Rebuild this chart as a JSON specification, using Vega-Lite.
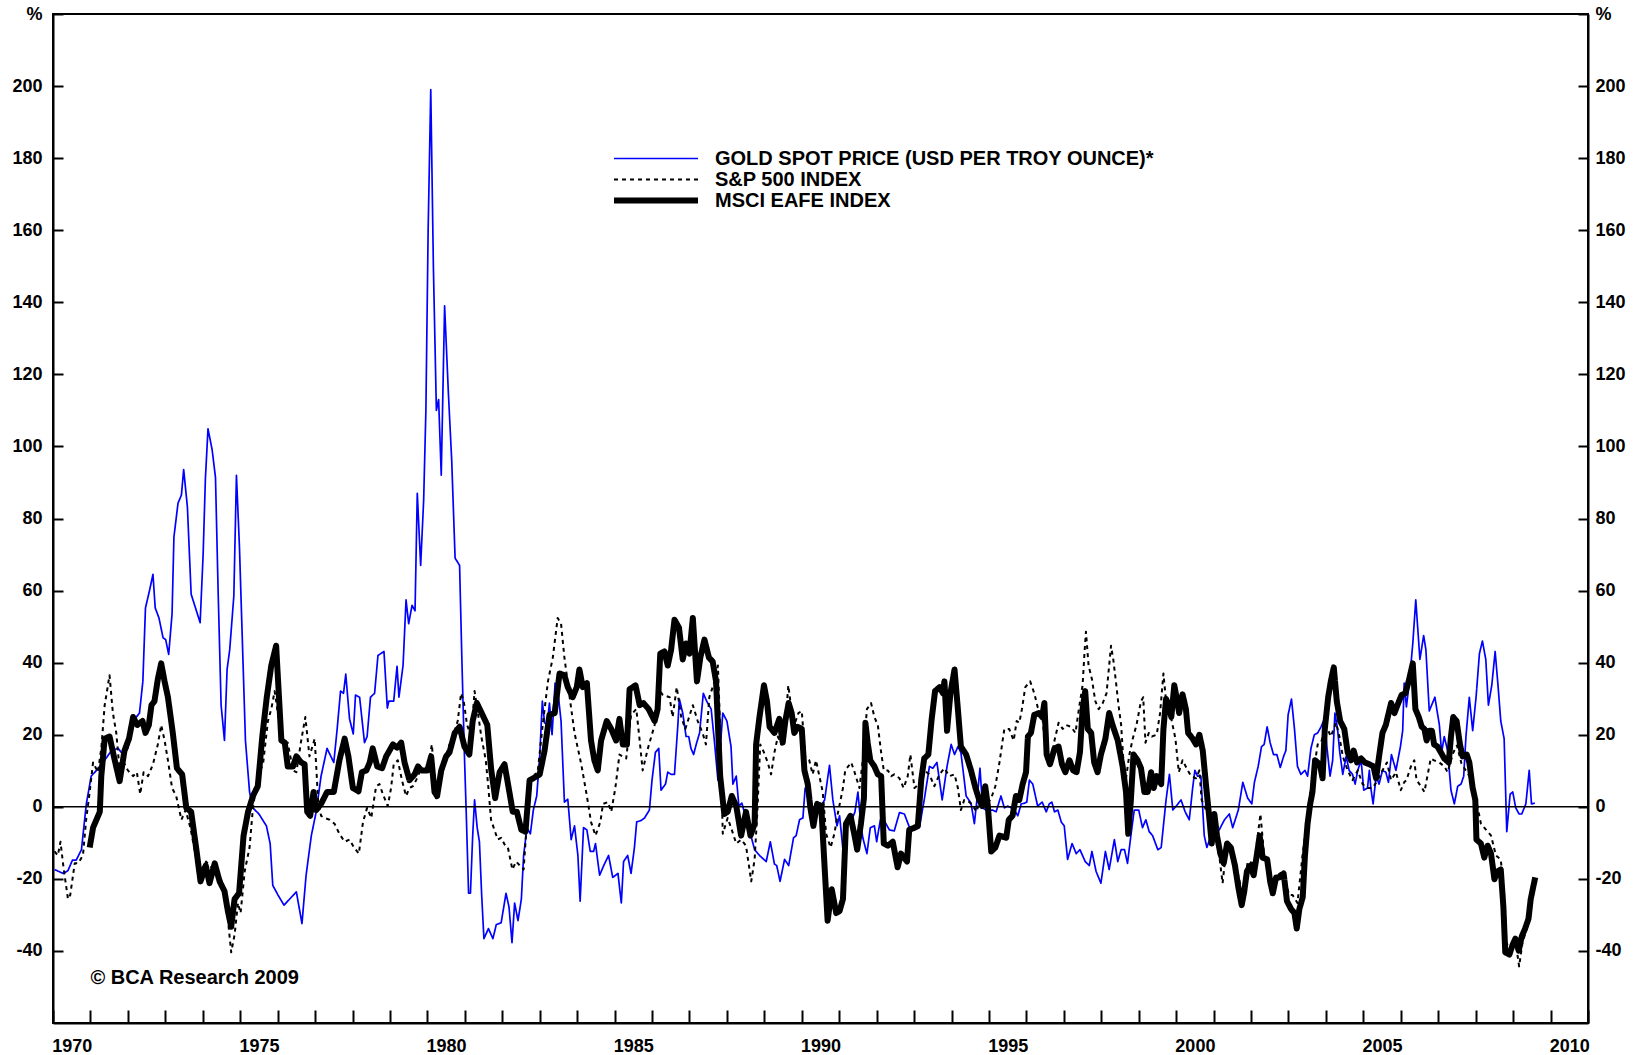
{
  "$schema": "https://vega.github.io/schema/vega-lite/v6.json",
  "width": 1535,
  "height": 1009,
  "autosize": {"type": "none"},
  "padding": {"left": 53, "top": 14, "right": 53, "bottom": 32},
  "background": "white",
  "config": {
    "view": {"stroke": "black", "strokeWidth": 2},
    "font": "Liberation Sans",
    "axis": {
      "labelFont": "Liberation Sans", "labelFontWeight": "bold", "labelFontSize": 18, "labelColor": "black",
      "domainColor": "black", "domainWidth": 2, "tickColor": "black", "tickWidth": 2, "grid": false, "title": null,
      "labelFlush": false, "labelOverlap": false, "labelBound": false
    },
    "legend": {
      "orient": "none", "legendX": 560, "legendY": 134, "title": null, "symbolType": "stroke",
      "symbolSize": 7056, "labelFont": "Liberation Sans", "labelFontWeight": "bold", "labelFontSize": 20,
      "labelColor": "black", "labelOffset": 16, "labelLimit": 0, "clipHeight": 21, "rowPadding": 0, "padding": 0
    }
  },
  "datasets": {
    "lines": [
{"s":"G","t":1970.04,"v":-17.4},{"s":"G","t":1970.27,"v":-18.5},{"s":"G","t":1970.40,"v":-17.7},{"s":"G","t":1970.52,"v":-14.8},{"s":"G","t":1970.62,"v":-14.8},{"s":"G","t":1970.76,"v":-11.9},{"s":"G","t":1970.89,"v":0.8},{"s":"G","t":1971.02,"v":8.5},{"s":"G","t":1971.16,"v":10.1},{"s":"G","t":1971.38,"v":12.9},{"s":"G","t":1971.56,"v":15.6},{"s":"G","t":1971.74,"v":16.2},{"s":"G","t":1971.87,"v":14.5},{"s":"G","t":1972.00,"v":16.2},{"s":"G","t":1972.14,"v":23.8},{"s":"G","t":1972.31,"v":26},{"s":"G","t":1972.40,"v":34.8},{"s":"G","t":1972.47,"v":55.2},{"s":"G","t":1972.58,"v":60.1},{"s":"G","t":1972.67,"v":64.5},{"s":"G","t":1972.73,"v":55.2},{"s":"G","t":1972.83,"v":52.4},{"s":"G","t":1972.94,"v":46.9},{"s":"G","t":1973.01,"v":46.4},{"s":"G","t":1973.09,"v":42.3},{"s":"G","t":1973.18,"v":53.5},{"s":"G","t":1973.23,"v":74.9},{"s":"G","t":1973.34,"v":84.3},{"s":"G","t":1973.43,"v":86.5},{"s":"G","t":1973.49,"v":93.6},{"s":"G","t":1973.59,"v":83.2},{"s":"G","t":1973.69,"v":59},{"s":"G","t":1973.93,"v":51.1},{"s":"G","t":1974.01,"v":70},{"s":"G","t":1974.07,"v":90.9},{"s":"G","t":1974.14,"v":104.9},{"s":"G","t":1974.25,"v":99.1},{"s":"G","t":1974.34,"v":91.4},{"s":"G","t":1974.41,"v":60.1},{"s":"G","t":1974.49,"v":28.2},{"s":"G","t":1974.58,"v":18.4},{"s":"G","t":1974.65,"v":38.1},{"s":"G","t":1974.72,"v":43.6},{"s":"G","t":1974.83,"v":58.5},{"s":"G","t":1974.90,"v":92},{"s":"G","t":1974.98,"v":72.2},{"s":"G","t":1975.14,"v":18.4},{"s":"G","t":1975.25,"v":4.1},{"s":"G","t":1975.34,"v":-0.3},{"s":"G","t":1975.50,"v":-2},{"s":"G","t":1975.70,"v":-5.3},{"s":"G","t":1975.80,"v":-10.2},{"s":"G","t":1975.87,"v":-21.8},{"s":"G","t":1976.01,"v":-24.5},{"s":"G","t":1976.17,"v":-27.3},{"s":"G","t":1976.50,"v":-23.6},{"s":"G","t":1976.65,"v":-32.4},{"s":"G","t":1976.76,"v":-19},{"s":"G","t":1976.90,"v":-8},{"s":"G","t":1977.03,"v":-1.4},{"s":"G","t":1977.16,"v":8.5},{"s":"G","t":1977.32,"v":16.2},{"s":"G","t":1977.50,"v":12.3},{"s":"G","t":1977.59,"v":21.6},{"s":"G","t":1977.68,"v":32.1},{"s":"G","t":1977.76,"v":31.5},{"s":"G","t":1977.82,"v":36.8},{"s":"G","t":1977.92,"v":24.4},{"s":"G","t":1978.02,"v":20.2},{"s":"G","t":1978.08,"v":31},{"s":"G","t":1978.19,"v":30.4},{"s":"G","t":1978.32,"v":17.8},{"s":"G","t":1978.39,"v":19.5},{"s":"G","t":1978.48,"v":30.4},{"s":"G","t":1978.59,"v":31.5},{"s":"G","t":1978.68,"v":42},{"s":"G","t":1978.84,"v":43.1},{"s":"G","t":1978.93,"v":27.4},{"s":"G","t":1978.97,"v":29.3},{"s":"G","t":1979.10,"v":29.3},{"s":"G","t":1979.19,"v":39},{"s":"G","t":1979.24,"v":30.4},{"s":"G","t":1979.35,"v":39.2},{"s":"G","t":1979.43,"v":57.4},{"s":"G","t":1979.50,"v":50.8},{"s":"G","t":1979.59,"v":55.9},{"s":"G","t":1979.67,"v":54.4},{"s":"G","t":1979.73,"v":87},{"s":"G","t":1979.82,"v":67},{"s":"G","t":1979.90,"v":85},{"s":"G","t":1979.96,"v":110},{"s":"G","t":1980.02,"v":160},{"s":"G","t":1980.09,"v":199},{"s":"G","t":1980.16,"v":150},{"s":"G","t":1980.24,"v":110},{"s":"G","t":1980.30,"v":113},{"s":"G","t":1980.37,"v":92},{"s":"G","t":1980.46,"v":139},{"s":"G","t":1980.56,"v":115},{"s":"G","t":1980.65,"v":96},{"s":"G","t":1980.74,"v":69},{"s":"G","t":1980.86,"v":67},{"s":"G","t":1980.92,"v":41.4},{"s":"G","t":1980.99,"v":14},{"s":"G","t":1981.04,"v":-2.5},{"s":"G","t":1981.10,"v":-24},{"s":"G","t":1981.15,"v":-24},{"s":"G","t":1981.21,"v":-8},{"s":"G","t":1981.26,"v":1.9},{"s":"G","t":1981.33,"v":-5.8},{"s":"G","t":1981.39,"v":-9.7},{"s":"G","t":1981.45,"v":-24.5},{"s":"G","t":1981.51,"v":-36.6},{"s":"G","t":1981.63,"v":-33.8},{"s":"G","t":1981.75,"v":-36.6},{"s":"G","t":1981.84,"v":-32.7},{"s":"G","t":1981.97,"v":-32.2},{"s":"G","t":1982.10,"v":-24},{"s":"G","t":1982.18,"v":-27.8},{"s":"G","t":1982.26,"v":-37.7},{"s":"G","t":1982.33,"v":-26.7},{"s":"G","t":1982.42,"v":-31.6},{"s":"G","t":1982.51,"v":-25.6},{"s":"G","t":1982.57,"v":-13.5},{"s":"G","t":1982.66,"v":-5.8},{"s":"G","t":1982.75,"v":-7.5},{"s":"G","t":1982.83,"v":-0.9},{"s":"G","t":1982.92,"v":3},{"s":"G","t":1983.00,"v":14},{"s":"G","t":1983.07,"v":29.3},{"s":"G","t":1983.13,"v":23.3},{"s":"G","t":1983.20,"v":22.7},{"s":"G","t":1983.26,"v":28.8},{"s":"G","t":1983.33,"v":20},{"s":"G","t":1983.41,"v":34.3},{"s":"G","t":1983.48,"v":32.6},{"s":"G","t":1983.57,"v":23.8},{"s":"G","t":1983.66,"v":1.3},{"s":"G","t":1983.75,"v":2.1},{"s":"G","t":1983.84,"v":-9.1},{"s":"G","t":1983.93,"v":-5.3},{"s":"G","t":1984.02,"v":-13.5},{"s":"G","t":1984.08,"v":-26.2},{"s":"G","t":1984.17,"v":-5.8},{"s":"G","t":1984.26,"v":-6.4},{"s":"G","t":1984.35,"v":-12.4},{"s":"G","t":1984.44,"v":-12.4},{"s":"G","t":1984.49,"v":-10.2},{"s":"G","t":1984.60,"v":-19},{"s":"G","t":1984.71,"v":-16.3},{"s":"G","t":1984.84,"v":-13.5},{"s":"G","t":1984.95,"v":-19.6},{"s":"G","t":1985.09,"v":-18.5},{"s":"G","t":1985.18,"v":-26.7},{"s":"G","t":1985.24,"v":-15.2},{"s":"G","t":1985.35,"v":-13.5},{"s":"G","t":1985.44,"v":-18.5},{"s":"G","t":1985.53,"v":-11.3},{"s":"G","t":1985.59,"v":-4.2},{"s":"G","t":1985.71,"v":-3.8},{"s":"G","t":1985.80,"v":-3.1},{"s":"G","t":1985.93,"v":-0.9},{"s":"G","t":1986.00,"v":7.4},{"s":"G","t":1986.09,"v":15.1},{"s":"G","t":1986.18,"v":16.2},{"s":"G","t":1986.24,"v":4.6},{"s":"G","t":1986.36,"v":6.3},{"s":"G","t":1986.42,"v":9.6},{"s":"G","t":1986.51,"v":9},{"s":"G","t":1986.60,"v":9},{"s":"G","t":1986.69,"v":22.7},{"s":"G","t":1986.73,"v":29.9},{"s":"G","t":1986.82,"v":26},{"s":"G","t":1986.91,"v":19.5},{"s":"G","t":1986.98,"v":19.5},{"s":"G","t":1987.04,"v":16.2},{"s":"G","t":1987.11,"v":14.5},{"s":"G","t":1987.18,"v":17.3},{"s":"G","t":1987.27,"v":20.5},{"s":"G","t":1987.37,"v":31.5},{"s":"G","t":1987.46,"v":29.3},{"s":"G","t":1987.58,"v":27.1},{"s":"G","t":1987.67,"v":17.8},{"s":"G","t":1987.76,"v":7.4},{"s":"G","t":1987.89,"v":26},{"s":"G","t":1988.00,"v":23.8},{"s":"G","t":1988.11,"v":16.7},{"s":"G","t":1988.16,"v":6.3},{"s":"G","t":1988.25,"v":8.5},{"s":"G","t":1988.32,"v":0.2},{"s":"G","t":1988.40,"v":1},{"s":"G","t":1988.51,"v":-3.1},{"s":"G","t":1988.60,"v":-6.4},{"s":"G","t":1988.74,"v":-11.9},{"s":"G","t":1988.87,"v":-13.5},{"s":"G","t":1989.05,"v":-15.2},{"s":"G","t":1989.16,"v":-9.7},{"s":"G","t":1989.27,"v":-15.9},{"s":"G","t":1989.33,"v":-16.3},{"s":"G","t":1989.42,"v":-20.7},{"s":"G","t":1989.54,"v":-14.6},{"s":"G","t":1989.65,"v":-16.3},{"s":"G","t":1989.78,"v":-8.6},{"s":"G","t":1989.85,"v":-8},{"s":"G","t":1989.94,"v":-3.6},{"s":"G","t":1990.03,"v":-3.1},{"s":"G","t":1990.09,"v":5.2},{"s":"G","t":1990.16,"v":3.5},{"s":"G","t":1990.25,"v":-1.4},{"s":"G","t":1990.36,"v":-3.1},{"s":"G","t":1990.47,"v":-0.3},{"s":"G","t":1990.61,"v":1.9},{"s":"G","t":1990.74,"v":11.5},{"s":"G","t":1990.83,"v":1.9},{"s":"G","t":1990.94,"v":-5.3},{"s":"G","t":1991.01,"v":-2.5},{"s":"G","t":1991.10,"v":-11.9},{"s":"G","t":1991.21,"v":-5.3},{"s":"G","t":1991.34,"v":-3.6},{"s":"G","t":1991.42,"v":-1.4},{"s":"G","t":1991.50,"v":4.1},{"s":"G","t":1991.57,"v":-4.2},{"s":"G","t":1991.63,"v":-8.6},{"s":"G","t":1991.74,"v":-13},{"s":"G","t":1991.83,"v":-5.8},{"s":"G","t":1991.94,"v":-5.3},{"s":"G","t":1992.00,"v":-9.7},{"s":"G","t":1992.10,"v":-3.6},{"s":"G","t":1992.22,"v":-4.2},{"s":"G","t":1992.34,"v":-6.4},{"s":"G","t":1992.47,"v":-6.7},{"s":"G","t":1992.61,"v":-1.6},{"s":"G","t":1992.74,"v":-2},{"s":"G","t":1992.88,"v":-5.8},{"s":"G","t":1993.01,"v":-6.4},{"s":"G","t":1993.14,"v":-5.8},{"s":"G","t":1993.27,"v":1.9},{"s":"G","t":1993.41,"v":11.2},{"s":"G","t":1993.50,"v":10.7},{"s":"G","t":1993.61,"v":12.3},{"s":"G","t":1993.75,"v":1.9},{"s":"G","t":1993.88,"v":11.2},{"s":"G","t":1993.99,"v":17.3},{"s":"G","t":1994.08,"v":14.5},{"s":"G","t":1994.17,"v":16.7},{"s":"G","t":1994.25,"v":15.1},{"s":"G","t":1994.39,"v":3},{"s":"G","t":1994.52,"v":1},{"s":"G","t":1994.61,"v":-4.7},{"s":"G","t":1994.70,"v":4.1},{"s":"G","t":1994.76,"v":10.7},{"s":"G","t":1994.83,"v":-0.3},{"s":"G","t":1994.92,"v":-0.9},{"s":"G","t":1995.10,"v":-0.9},{"s":"G","t":1995.19,"v":-1.4},{"s":"G","t":1995.32,"v":3},{"s":"G","t":1995.41,"v":-0.3},{"s":"G","t":1995.50,"v":0.2},{"s":"G","t":1995.59,"v":-0.3},{"s":"G","t":1995.68,"v":-0.9},{"s":"G","t":1995.77,"v":-2.5},{"s":"G","t":1995.86,"v":0.8},{"s":"G","t":1995.95,"v":1},{"s":"G","t":1996.01,"v":1.3},{"s":"G","t":1996.08,"v":7.4},{"s":"G","t":1996.17,"v":6.3},{"s":"G","t":1996.30,"v":0.2},{"s":"G","t":1996.42,"v":1.3},{"s":"G","t":1996.53,"v":-1.4},{"s":"G","t":1996.61,"v":0.8},{"s":"G","t":1996.68,"v":1.3},{"s":"G","t":1996.75,"v":-1.4},{"s":"G","t":1996.84,"v":-0.9},{"s":"G","t":1996.93,"v":-4.2},{"s":"G","t":1997.01,"v":-5.3},{"s":"G","t":1997.10,"v":-14.6},{"s":"G","t":1997.22,"v":-10.2},{"s":"G","t":1997.33,"v":-13},{"s":"G","t":1997.43,"v":-11.9},{"s":"G","t":1997.57,"v":-15.2},{"s":"G","t":1997.68,"v":-16.3},{"s":"G","t":1997.75,"v":-12.4},{"s":"G","t":1997.86,"v":-17.9},{"s":"G","t":1997.99,"v":-21.2},{"s":"G","t":1998.11,"v":-12.4},{"s":"G","t":1998.21,"v":-17.4},{"s":"G","t":1998.35,"v":-9.1},{"s":"G","t":1998.44,"v":-15.2},{"s":"G","t":1998.53,"v":-11.9},{"s":"G","t":1998.62,"v":-11.9},{"s":"G","t":1998.70,"v":-15.7},{"s":"G","t":1998.79,"v":-8},{"s":"G","t":1998.88,"v":-0.9},{"s":"G","t":1999.00,"v":-0.9},{"s":"G","t":1999.10,"v":-5.8},{"s":"G","t":1999.19,"v":-3.6},{"s":"G","t":1999.28,"v":-6.9},{"s":"G","t":1999.37,"v":-8},{"s":"G","t":1999.51,"v":-11.9},{"s":"G","t":1999.60,"v":-11.3},{"s":"G","t":1999.73,"v":1.9},{"s":"G","t":1999.82,"v":9},{"s":"G","t":1999.91,"v":-0.9},{"s":"G","t":2000.00,"v":0.2},{"s":"G","t":2000.13,"v":1.9},{"s":"G","t":2000.24,"v":-1.4},{"s":"G","t":2000.35,"v":-3.6},{"s":"G","t":2000.44,"v":5.2},{"s":"G","t":2000.50,"v":10.1},{"s":"G","t":2000.57,"v":8.5},{"s":"G","t":2000.66,"v":8.5},{"s":"G","t":2000.75,"v":-8},{"s":"G","t":2000.82,"v":-11.3},{"s":"G","t":2000.91,"v":-8.6},{"s":"G","t":2001.02,"v":-7.5},{"s":"G","t":2001.15,"v":-6.4},{"s":"G","t":2001.29,"v":-3.6},{"s":"G","t":2001.42,"v":-2},{"s":"G","t":2001.51,"v":-5.8},{"s":"G","t":2001.66,"v":-0.9},{"s":"G","t":2001.78,"v":6.8},{"s":"G","t":2001.91,"v":2.4},{"s":"G","t":2002.02,"v":0.8},{"s":"G","t":2002.09,"v":6.8},{"s":"G","t":2002.19,"v":11.2},{"s":"G","t":2002.28,"v":16.7},{"s":"G","t":2002.35,"v":17.3},{"s":"G","t":2002.43,"v":22.2},{"s":"G","t":2002.51,"v":17.8},{"s":"G","t":2002.60,"v":14.5},{"s":"G","t":2002.69,"v":14.5},{"s":"G","t":2002.78,"v":10.9},{"s":"G","t":2002.87,"v":14},{"s":"G","t":2002.93,"v":15.6},{"s":"G","t":2002.99,"v":25.5},{"s":"G","t":2003.08,"v":29.9},{"s":"G","t":2003.16,"v":21.6},{"s":"G","t":2003.24,"v":11.2},{"s":"G","t":2003.33,"v":9},{"s":"G","t":2003.44,"v":10.1},{"s":"G","t":2003.51,"v":8.5},{"s":"G","t":2003.60,"v":16.2},{"s":"G","t":2003.69,"v":20},{"s":"G","t":2003.78,"v":20.5},{"s":"G","t":2003.87,"v":22.2},{"s":"G","t":2003.96,"v":24.4},{"s":"G","t":2004.03,"v":16.2},{"s":"G","t":2004.11,"v":8.5},{"s":"G","t":2004.18,"v":12.9},{"s":"G","t":2004.24,"v":26},{"s":"G","t":2004.31,"v":21.6},{"s":"G","t":2004.37,"v":15.1},{"s":"G","t":2004.45,"v":9},{"s":"G","t":2004.54,"v":14},{"s":"G","t":2004.62,"v":10.1},{"s":"G","t":2004.71,"v":9},{"s":"G","t":2004.78,"v":6.3},{"s":"G","t":2004.85,"v":10.1},{"s":"G","t":2004.94,"v":12.9},{"s":"G","t":2005.01,"v":4.6},{"s":"G","t":2005.11,"v":5.2},{"s":"G","t":2005.16,"v":10.1},{"s":"G","t":2005.20,"v":5.2},{"s":"G","t":2005.26,"v":0.8},{"s":"G","t":2005.34,"v":8.5},{"s":"G","t":2005.42,"v":6.3},{"s":"G","t":2005.51,"v":10.1},{"s":"G","t":2005.60,"v":9.6},{"s":"G","t":2005.67,"v":6.8},{"s":"G","t":2005.75,"v":14.5},{"s":"G","t":2005.87,"v":10.1},{"s":"G","t":2005.99,"v":16.7},{"s":"G","t":2006.05,"v":21.1},{"s":"G","t":2006.09,"v":34.3},{"s":"G","t":2006.15,"v":27.7},{"s":"G","t":2006.23,"v":34.8},{"s":"G","t":2006.32,"v":45.3},{"s":"G","t":2006.40,"v":57.4},{"s":"G","t":2006.51,"v":40.9},{"s":"G","t":2006.61,"v":47.5},{"s":"G","t":2006.67,"v":43.6},{"s":"G","t":2006.76,"v":26.6},{"s":"G","t":2006.91,"v":30.4},{"s":"G","t":2007.03,"v":22.7},{"s":"G","t":2007.09,"v":15.1},{"s":"G","t":2007.16,"v":19.5},{"s":"G","t":2007.25,"v":15.6},{"s":"G","t":2007.34,"v":4.6},{"s":"G","t":2007.43,"v":0.8},{"s":"G","t":2007.52,"v":5.7},{"s":"G","t":2007.61,"v":6.3},{"s":"G","t":2007.68,"v":8.5},{"s":"G","t":2007.74,"v":19.5},{"s":"G","t":2007.83,"v":30.4},{"s":"G","t":2007.92,"v":21.1},{"s":"G","t":2008.01,"v":30.4},{"s":"G","t":2008.10,"v":42.5},{"s":"G","t":2008.18,"v":46},{"s":"G","t":2008.27,"v":40.9},{"s":"G","t":2008.34,"v":28.2},{"s":"G","t":2008.43,"v":33.7},{"s":"G","t":2008.52,"v":43.1},{"s":"G","t":2008.60,"v":33.2},{"s":"G","t":2008.67,"v":23.8},{"s":"G","t":2008.76,"v":18.9},{"s":"G","t":2008.83,"v":-6.9},{"s":"G","t":2008.92,"v":3.5},{"s":"G","t":2008.99,"v":4.1},{"s":"G","t":2009.07,"v":-0.3},{"s":"G","t":2009.16,"v":-2},{"s":"G","t":2009.23,"v":-2},{"s":"G","t":2009.34,"v":0.8},{"s":"G","t":2009.43,"v":10.1},{"s":"G","t":2009.49,"v":0.8},{"s":"G","t":2009.58,"v":1},
{"s":"S","t":1970.04,"v":-12.4},{"s":"S","t":1970.13,"v":-13.5},{"s":"S","t":1970.20,"v":-9.7},{"s":"S","t":1970.28,"v":-16.8},{"s":"S","t":1970.40,"v":-25.6},{"s":"S","t":1970.46,"v":-24.5},{"s":"S","t":1970.58,"v":-15.7},{"s":"S","t":1970.67,"v":-15.7},{"s":"S","t":1970.80,"v":-13.5},{"s":"S","t":1970.89,"v":-3.1},{"s":"S","t":1970.98,"v":4.1},{"s":"S","t":1971.07,"v":12.3},{"s":"S","t":1971.20,"v":9.6},{"s":"S","t":1971.29,"v":16.2},{"s":"S","t":1971.38,"v":28.2},{"s":"S","t":1971.45,"v":32.6},{"s":"S","t":1971.51,"v":36.5},{"s":"S","t":1971.60,"v":26},{"s":"S","t":1971.69,"v":20.5},{"s":"S","t":1971.78,"v":10.1},{"s":"S","t":1971.89,"v":12.3},{"s":"S","t":1972.00,"v":10.1},{"s":"S","t":1972.14,"v":8.5},{"s":"S","t":1972.24,"v":9.6},{"s":"S","t":1972.33,"v":3.5},{"s":"S","t":1972.42,"v":9.6},{"s":"S","t":1972.54,"v":8.5},{"s":"S","t":1972.67,"v":11.8},{"s":"S","t":1972.80,"v":17.3},{"s":"S","t":1972.89,"v":22.7},{"s":"S","t":1972.98,"v":18.4},{"s":"S","t":1973.07,"v":12.9},{"s":"S","t":1973.18,"v":5.2},{"s":"S","t":1973.29,"v":3},{"s":"S","t":1973.43,"v":-3.6},{"s":"S","t":1973.54,"v":-0.9},{"s":"S","t":1973.67,"v":-5.8},{"s":"S","t":1973.83,"v":-14.6},{"s":"S","t":1973.96,"v":-17.4},{"s":"S","t":1974.09,"v":-15.2},{"s":"S","t":1974.23,"v":-16.8},{"s":"S","t":1974.36,"v":-17.9},{"s":"S","t":1974.49,"v":-20.1},{"s":"S","t":1974.58,"v":-24},{"s":"S","t":1974.67,"v":-31.1},{"s":"S","t":1974.76,"v":-40.4},{"s":"S","t":1974.85,"v":-35.5},{"s":"S","t":1974.94,"v":-26.7},{"s":"S","t":1975.01,"v":-29.5},{"s":"S","t":1975.12,"v":-17.9},{"s":"S","t":1975.25,"v":-11.3},{"s":"S","t":1975.34,"v":-0.3},{"s":"S","t":1975.47,"v":8.5},{"s":"S","t":1975.61,"v":11.8},{"s":"S","t":1975.74,"v":23.8},{"s":"S","t":1975.83,"v":27.1},{"s":"S","t":1975.92,"v":32.1},{"s":"S","t":1976.05,"v":22.7},{"s":"S","t":1976.17,"v":17.3},{"s":"S","t":1976.27,"v":17.8},{"s":"S","t":1976.41,"v":10.1},{"s":"S","t":1976.50,"v":9.6},{"s":"S","t":1976.63,"v":18.4},{"s":"S","t":1976.74,"v":24.9},{"s":"S","t":1976.85,"v":14},{"s":"S","t":1976.99,"v":18.9},{"s":"S","t":1977.08,"v":1.9},{"s":"S","t":1977.16,"v":-2.5},{"s":"S","t":1977.25,"v":-3.1},{"s":"S","t":1977.39,"v":-3.6},{"s":"S","t":1977.52,"v":-4.7},{"s":"S","t":1977.65,"v":-7.5},{"s":"S","t":1977.79,"v":-9.7},{"s":"S","t":1977.92,"v":-9.1},{"s":"S","t":1978.04,"v":-11.3},{"s":"S","t":1978.17,"v":-13},{"s":"S","t":1978.28,"v":-4.2},{"s":"S","t":1978.39,"v":-0.3},{"s":"S","t":1978.50,"v":-3.1},{"s":"S","t":1978.63,"v":5.7},{"s":"S","t":1978.72,"v":6.3},{"s":"S","t":1978.81,"v":3.5},{"s":"S","t":1978.94,"v":0.2},{"s":"S","t":1979.03,"v":5.2},{"s":"S","t":1979.10,"v":11.8},{"s":"S","t":1979.21,"v":12.9},{"s":"S","t":1979.32,"v":7.4},{"s":"S","t":1979.43,"v":3},{"s":"S","t":1979.52,"v":5.2},{"s":"S","t":1979.61,"v":5.7},{"s":"S","t":1979.70,"v":7.4},{"s":"S","t":1979.79,"v":9.6},{"s":"S","t":1979.91,"v":9.6},{"s":"S","t":1980.01,"v":10.7},{"s":"S","t":1980.12,"v":17.3},{"s":"S","t":1980.23,"v":2.4},{"s":"S","t":1980.32,"v":5.2},{"s":"S","t":1980.43,"v":10.7},{"s":"S","t":1980.55,"v":16.2},{"s":"S","t":1980.68,"v":19.5},{"s":"S","t":1980.81,"v":23.8},{"s":"S","t":1980.90,"v":31.5},{"s":"S","t":1980.97,"v":29.3},{"s":"S","t":1981.06,"v":22.7},{"s":"S","t":1981.17,"v":19.5},{"s":"S","t":1981.26,"v":32.1},{"s":"S","t":1981.35,"v":26},{"s":"S","t":1981.44,"v":19.5},{"s":"S","t":1981.56,"v":12.9},{"s":"S","t":1981.63,"v":5.2},{"s":"S","t":1981.70,"v":-3.6},{"s":"S","t":1981.79,"v":-6.4},{"s":"S","t":1981.88,"v":-9.1},{"s":"S","t":1981.97,"v":-8.6},{"s":"S","t":1982.08,"v":-10.8},{"s":"S","t":1982.15,"v":-11.3},{"s":"S","t":1982.27,"v":-17.4},{"s":"S","t":1982.37,"v":-15.2},{"s":"S","t":1982.57,"v":-17.4},{"s":"S","t":1982.64,"v":-6.9},{"s":"S","t":1982.77,"v":7.4},{"s":"S","t":1982.95,"v":10.1},{"s":"S","t":1983.08,"v":22.7},{"s":"S","t":1983.22,"v":34.8},{"s":"S","t":1983.35,"v":41.4},{"s":"S","t":1983.48,"v":52.4},{"s":"S","t":1983.57,"v":50.8},{"s":"S","t":1983.66,"v":41.4},{"s":"S","t":1983.80,"v":30.4},{"s":"S","t":1983.93,"v":20.5},{"s":"S","t":1984.11,"v":11.8},{"s":"S","t":1984.26,"v":3},{"s":"S","t":1984.37,"v":-4.2},{"s":"S","t":1984.49,"v":-8},{"s":"S","t":1984.62,"v":-4.2},{"s":"S","t":1984.69,"v":0.8},{"s":"S","t":1984.82,"v":1.3},{"s":"S","t":1984.91,"v":-1.4},{"s":"S","t":1985.02,"v":5.2},{"s":"S","t":1985.13,"v":14.5},{"s":"S","t":1985.31,"v":13.4},{"s":"S","t":1985.44,"v":25.5},{"s":"S","t":1985.58,"v":27.1},{"s":"S","t":1985.67,"v":18.4},{"s":"S","t":1985.75,"v":10.1},{"s":"S","t":1985.89,"v":16.2},{"s":"S","t":1986.07,"v":22.7},{"s":"S","t":1986.18,"v":32.6},{"s":"S","t":1986.29,"v":31},{"s":"S","t":1986.47,"v":30.4},{"s":"S","t":1986.55,"v":24.9},{"s":"S","t":1986.66,"v":33.2},{"s":"S","t":1986.78,"v":24.9},{"s":"S","t":1986.89,"v":21.6},{"s":"S","t":1987.09,"v":28.2},{"s":"S","t":1987.22,"v":23.8},{"s":"S","t":1987.35,"v":20.5},{"s":"S","t":1987.44,"v":17.3},{"s":"S","t":1987.53,"v":30.4},{"s":"S","t":1987.67,"v":34.8},{"s":"S","t":1987.76,"v":39.2},{"s":"S","t":1987.82,"v":21.6},{"s":"S","t":1987.89,"v":-7.5},{"s":"S","t":1988.02,"v":-3.1},{"s":"S","t":1988.13,"v":-6.4},{"s":"S","t":1988.25,"v":-10.2},{"s":"S","t":1988.38,"v":-9.1},{"s":"S","t":1988.51,"v":-10.8},{"s":"S","t":1988.65,"v":-20.7},{"s":"S","t":1988.74,"v":-14.6},{"s":"S","t":1988.81,"v":-2},{"s":"S","t":1988.89,"v":17.3},{"s":"S","t":1988.99,"v":15.1},{"s":"S","t":1989.09,"v":12.3},{"s":"S","t":1989.18,"v":9},{"s":"S","t":1989.27,"v":15.1},{"s":"S","t":1989.36,"v":19.5},{"s":"S","t":1989.45,"v":17.3},{"s":"S","t":1989.56,"v":22.7},{"s":"S","t":1989.64,"v":33.7},{"s":"S","t":1989.72,"v":27.1},{"s":"S","t":1989.80,"v":22.7},{"s":"S","t":1989.91,"v":26},{"s":"S","t":1990.00,"v":26.6},{"s":"S","t":1990.09,"v":14},{"s":"S","t":1990.20,"v":12.9},{"s":"S","t":1990.29,"v":9},{"s":"S","t":1990.38,"v":12.9},{"s":"S","t":1990.47,"v":8.5},{"s":"S","t":1990.56,"v":4.1},{"s":"S","t":1990.65,"v":-7.5},{"s":"S","t":1990.77,"v":-11.3},{"s":"S","t":1990.87,"v":-7.5},{"s":"S","t":1990.96,"v":-2},{"s":"S","t":1991.10,"v":5.2},{"s":"S","t":1991.16,"v":10.1},{"s":"S","t":1991.32,"v":12.3},{"s":"S","t":1991.41,"v":9.6},{"s":"S","t":1991.54,"v":5.2},{"s":"S","t":1991.63,"v":12.9},{"s":"S","t":1991.74,"v":27.1},{"s":"S","t":1991.85,"v":28.8},{"s":"S","t":1991.94,"v":24.9},{"s":"S","t":1992.03,"v":22.7},{"s":"S","t":1992.12,"v":15.1},{"s":"S","t":1992.19,"v":10.1},{"s":"S","t":1992.30,"v":10.1},{"s":"S","t":1992.39,"v":8.5},{"s":"S","t":1992.47,"v":9},{"s":"S","t":1992.61,"v":7.9},{"s":"S","t":1992.72,"v":5.2},{"s":"S","t":1992.83,"v":8.5},{"s":"S","t":1992.90,"v":14.5},{"s":"S","t":1993.01,"v":5.2},{"s":"S","t":1993.14,"v":6.3},{"s":"S","t":1993.27,"v":10.1},{"s":"S","t":1993.41,"v":9},{"s":"S","t":1993.54,"v":5.7},{"s":"S","t":1993.68,"v":9},{"s":"S","t":1993.81,"v":10.7},{"s":"S","t":1993.94,"v":8.5},{"s":"S","t":1994.08,"v":9},{"s":"S","t":1994.17,"v":5.2},{"s":"S","t":1994.25,"v":-0.9},{"s":"S","t":1994.34,"v":1.9},{"s":"S","t":1994.48,"v":1.3},{"s":"S","t":1994.57,"v":0.2},{"s":"S","t":1994.67,"v":-1.4},{"s":"S","t":1994.79,"v":3.5},{"s":"S","t":1994.92,"v":0.2},{"s":"S","t":1995.06,"v":2.4},{"s":"S","t":1995.17,"v":5.7},{"s":"S","t":1995.28,"v":12.3},{"s":"S","t":1995.41,"v":21.6},{"s":"S","t":1995.54,"v":21.6},{"s":"S","t":1995.66,"v":18.4},{"s":"S","t":1995.74,"v":23.8},{"s":"S","t":1995.81,"v":23.3},{"s":"S","t":1995.88,"v":27.1},{"s":"S","t":1995.97,"v":33.2},{"s":"S","t":1996.10,"v":34.8},{"s":"S","t":1996.21,"v":31.5},{"s":"S","t":1996.30,"v":27.7},{"s":"S","t":1996.42,"v":25.5},{"s":"S","t":1996.54,"v":13.4},{"s":"S","t":1996.66,"v":12.9},{"s":"S","t":1996.75,"v":18.4},{"s":"S","t":1996.86,"v":23.3},{"s":"S","t":1996.97,"v":21.6},{"s":"S","t":1997.06,"v":22.7},{"s":"S","t":1997.19,"v":22.2},{"s":"S","t":1997.31,"v":20.5},{"s":"S","t":1997.41,"v":27.7},{"s":"S","t":1997.50,"v":33.7},{"s":"S","t":1997.55,"v":42.5},{"s":"S","t":1997.59,"v":48.6},{"s":"S","t":1997.66,"v":39.2},{"s":"S","t":1997.75,"v":35.4},{"s":"S","t":1997.84,"v":29.3},{"s":"S","t":1997.93,"v":27.1},{"s":"S","t":1998.04,"v":28.8},{"s":"S","t":1998.14,"v":31.5},{"s":"S","t":1998.20,"v":38.1},{"s":"S","t":1998.26,"v":44.7},{"s":"S","t":1998.32,"v":40.9},{"s":"S","t":1998.39,"v":34.8},{"s":"S","t":1998.46,"v":28.2},{"s":"S","t":1998.53,"v":22.7},{"s":"S","t":1998.59,"v":12.9},{"s":"S","t":1998.66,"v":7.9},{"s":"S","t":1998.75,"v":14.5},{"s":"S","t":1998.84,"v":18.9},{"s":"S","t":1998.94,"v":22.7},{"s":"S","t":1999.06,"v":29.3},{"s":"S","t":1999.12,"v":30.4},{"s":"S","t":1999.18,"v":17.8},{"s":"S","t":1999.27,"v":20.5},{"s":"S","t":1999.35,"v":19.5},{"s":"S","t":1999.48,"v":20},{"s":"S","t":1999.57,"v":26},{"s":"S","t":1999.66,"v":37},{"s":"S","t":1999.75,"v":27.1},{"s":"S","t":1999.86,"v":24.9},{"s":"S","t":1999.98,"v":18.9},{"s":"S","t":2000.07,"v":9.6},{"s":"S","t":2000.17,"v":12.9},{"s":"S","t":2000.31,"v":10.1},{"s":"S","t":2000.40,"v":8.5},{"s":"S","t":2000.53,"v":7.9},{"s":"S","t":2000.62,"v":10.1},{"s":"S","t":2000.68,"v":1.9},{"s":"S","t":2000.80,"v":-0.9},{"s":"S","t":2000.93,"v":-5.8},{"s":"S","t":2001.06,"v":-9.1},{"s":"S","t":2001.15,"v":-13.5},{"s":"S","t":2001.24,"v":-21.2},{"s":"S","t":2001.33,"v":-12.4},{"s":"S","t":2001.46,"v":-11.3},{"s":"S","t":2001.57,"v":-15},{"s":"S","t":2001.70,"v":-21},{"s":"S","t":2001.80,"v":-24},{"s":"S","t":2001.91,"v":-15.2},{"s":"S","t":2002.09,"v":-15.7},{"s":"S","t":2002.25,"v":-2},{"s":"S","t":2002.35,"v":-13.5},{"s":"S","t":2002.58,"v":-20.1},{"s":"S","t":2002.84,"v":-17.9},{"s":"S","t":2003.02,"v":-24.5},{"s":"S","t":2003.11,"v":-24.5},{"s":"S","t":2003.24,"v":-26.7},{"s":"S","t":2003.38,"v":-13},{"s":"S","t":2003.51,"v":-2.5},{"s":"S","t":2003.60,"v":5.2},{"s":"S","t":2003.69,"v":11.2},{"s":"S","t":2003.78,"v":17.3},{"s":"S","t":2003.87,"v":17.8},{"s":"S","t":2004.00,"v":22.7},{"s":"S","t":2004.13,"v":19.5},{"s":"S","t":2004.27,"v":23.3},{"s":"S","t":2004.36,"v":19.5},{"s":"S","t":2004.45,"v":14},{"s":"S","t":2004.58,"v":10.1},{"s":"S","t":2004.71,"v":7.4},{"s":"S","t":2004.85,"v":10.1},{"s":"S","t":2004.98,"v":6.3},{"s":"S","t":2005.11,"v":5.2},{"s":"S","t":2005.25,"v":5.2},{"s":"S","t":2005.38,"v":7.4},{"s":"S","t":2005.51,"v":10.1},{"s":"S","t":2005.63,"v":12.3},{"s":"S","t":2005.74,"v":7.4},{"s":"S","t":2005.87,"v":9.6},{"s":"S","t":2006.00,"v":4.6},{"s":"S","t":2006.09,"v":6.8},{"s":"S","t":2006.15,"v":7.4},{"s":"S","t":2006.27,"v":11.2},{"s":"S","t":2006.36,"v":12.9},{"s":"S","t":2006.42,"v":7.4},{"s":"S","t":2006.54,"v":5.7},{"s":"S","t":2006.63,"v":4.1},{"s":"S","t":2006.71,"v":8.5},{"s":"S","t":2006.80,"v":13.4},{"s":"S","t":2006.89,"v":12.9},{"s":"S","t":2007.03,"v":12.3},{"s":"S","t":2007.16,"v":11.2},{"s":"S","t":2007.25,"v":9.6},{"s":"S","t":2007.40,"v":15},{"s":"S","t":2007.50,"v":17},{"s":"S","t":2007.62,"v":12},{"s":"S","t":2007.83,"v":8.5},{"s":"S","t":2007.99,"v":3},{"s":"S","t":2008.14,"v":-4.7},{"s":"S","t":2008.32,"v":-6.9},{"s":"S","t":2008.41,"v":-8},{"s":"S","t":2008.54,"v":-13.5},{"s":"S","t":2008.67,"v":-14.6},{"s":"S","t":2008.76,"v":-24.5},{"s":"S","t":2008.82,"v":-37.7},{"s":"S","t":2008.94,"v":-39.9},{"s":"S","t":2009.07,"v":-37.7},{"s":"S","t":2009.16,"v":-44.3},{"s":"S","t":2009.25,"v":-37.7},{"s":"S","t":2009.38,"v":-33.3},{"s":"S","t":2009.52,"v":-23.4},{"s":"S","t":2009.59,"v":-20.7},
{"s":"M","t":1970.98,"v":-11.3},{"s":"M","t":1971.07,"v":-5.8},{"s":"M","t":1971.25,"v":-1.4},{"s":"M","t":1971.29,"v":8.5},{"s":"M","t":1971.38,"v":18.9},{"s":"M","t":1971.51,"v":19.5},{"s":"M","t":1971.65,"v":12.9},{"s":"M","t":1971.78,"v":7.1},{"s":"M","t":1971.91,"v":15.6},{"s":"M","t":1972.03,"v":18.9},{"s":"M","t":1972.14,"v":24.9},{"s":"M","t":1972.25,"v":22.7},{"s":"M","t":1972.39,"v":23.8},{"s":"M","t":1972.47,"v":20.5},{"s":"M","t":1972.56,"v":22.7},{"s":"M","t":1972.63,"v":28.2},{"s":"M","t":1972.71,"v":29.3},{"s":"M","t":1972.80,"v":35.4},{"s":"M","t":1972.89,"v":39.8},{"s":"M","t":1972.98,"v":34.8},{"s":"M","t":1973.07,"v":30.4},{"s":"M","t":1973.20,"v":20.5},{"s":"M","t":1973.31,"v":10.7},{"s":"M","t":1973.45,"v":9},{"s":"M","t":1973.56,"v":-0.3},{"s":"M","t":1973.69,"v":-1.4},{"s":"M","t":1973.83,"v":-11.9},{"s":"M","t":1973.94,"v":-20.7},{"s":"M","t":1974.08,"v":-16.3},{"s":"M","t":1974.18,"v":-21.2},{"s":"M","t":1974.32,"v":-15.7},{"s":"M","t":1974.45,"v":-20.7},{"s":"M","t":1974.58,"v":-23.4},{"s":"M","t":1974.67,"v":-28.9},{"s":"M","t":1974.76,"v":-33.3},{"s":"M","t":1974.85,"v":-25.6},{"s":"M","t":1974.97,"v":-24},{"s":"M","t":1975.09,"v":-8},{"s":"M","t":1975.21,"v":-1.4},{"s":"M","t":1975.34,"v":3},{"s":"M","t":1975.47,"v":5.7},{"s":"M","t":1975.59,"v":19.5},{"s":"M","t":1975.71,"v":30.4},{"s":"M","t":1975.83,"v":39.2},{"s":"M","t":1975.96,"v":44.7},{"s":"M","t":1976.10,"v":18.4},{"s":"M","t":1976.19,"v":17.8},{"s":"M","t":1976.27,"v":11.2},{"s":"M","t":1976.41,"v":11.2},{"s":"M","t":1976.50,"v":14},{"s":"M","t":1976.63,"v":12.3},{"s":"M","t":1976.72,"v":11.8},{"s":"M","t":1976.79,"v":-1.4},{"s":"M","t":1976.87,"v":-2.5},{"s":"M","t":1976.96,"v":4.1},{"s":"M","t":1977.03,"v":-0.9},{"s":"M","t":1977.16,"v":0.8},{"s":"M","t":1977.32,"v":4.1},{"s":"M","t":1977.50,"v":4.1},{"s":"M","t":1977.65,"v":12.9},{"s":"M","t":1977.79,"v":18.9},{"s":"M","t":1977.89,"v":14},{"s":"M","t":1978.01,"v":5.2},{"s":"M","t":1978.16,"v":4.3},{"s":"M","t":1978.25,"v":9.6},{"s":"M","t":1978.37,"v":10.1},{"s":"M","t":1978.46,"v":12.3},{"s":"M","t":1978.54,"v":16.2},{"s":"M","t":1978.66,"v":11.2},{"s":"M","t":1978.79,"v":10.7},{"s":"M","t":1978.90,"v":14},{"s":"M","t":1979.08,"v":17.3},{"s":"M","t":1979.19,"v":16.4},{"s":"M","t":1979.30,"v":17.8},{"s":"M","t":1979.39,"v":12.3},{"s":"M","t":1979.52,"v":7.4},{"s":"M","t":1979.66,"v":9},{"s":"M","t":1979.75,"v":11.2},{"s":"M","t":1979.84,"v":10.1},{"s":"M","t":1980.00,"v":10.1},{"s":"M","t":1980.10,"v":14},{"s":"M","t":1980.19,"v":4.1},{"s":"M","t":1980.26,"v":3},{"s":"M","t":1980.37,"v":10.1},{"s":"M","t":1980.50,"v":14},{"s":"M","t":1980.59,"v":15.1},{"s":"M","t":1980.73,"v":20.5},{"s":"M","t":1980.86,"v":22.2},{"s":"M","t":1980.99,"v":16.7},{"s":"M","t":1981.12,"v":14.5},{"s":"M","t":1981.21,"v":23.8},{"s":"M","t":1981.32,"v":28.8},{"s":"M","t":1981.45,"v":26},{"s":"M","t":1981.60,"v":22.7},{"s":"M","t":1981.70,"v":10.7},{"s":"M","t":1981.81,"v":2.4},{"s":"M","t":1981.93,"v":9.6},{"s":"M","t":1982.06,"v":11.8},{"s":"M","t":1982.19,"v":4.1},{"s":"M","t":1982.28,"v":-1.4},{"s":"M","t":1982.39,"v":-1.4},{"s":"M","t":1982.51,"v":-6.4},{"s":"M","t":1982.62,"v":-6.9},{"s":"M","t":1982.73,"v":7.4},{"s":"M","t":1982.83,"v":7.9},{"s":"M","t":1983.00,"v":9},{"s":"M","t":1983.13,"v":15.6},{"s":"M","t":1983.26,"v":25.5},{"s":"M","t":1983.40,"v":26},{"s":"M","t":1983.53,"v":37},{"s":"M","t":1983.66,"v":36.5},{"s":"M","t":1983.75,"v":33.2},{"s":"M","t":1983.88,"v":30.4},{"s":"M","t":1983.99,"v":33.2},{"s":"M","t":1984.06,"v":38.1},{"s":"M","t":1984.15,"v":33.2},{"s":"M","t":1984.26,"v":34.3},{"s":"M","t":1984.37,"v":18.4},{"s":"M","t":1984.46,"v":12.9},{"s":"M","t":1984.55,"v":10.1},{"s":"M","t":1984.64,"v":18.4},{"s":"M","t":1984.79,"v":23.8},{"s":"M","t":1984.91,"v":21.6},{"s":"M","t":1985.04,"v":18.4},{"s":"M","t":1985.13,"v":24.4},{"s":"M","t":1985.22,"v":17.3},{"s":"M","t":1985.33,"v":17.3},{"s":"M","t":1985.40,"v":32.6},{"s":"M","t":1985.56,"v":33.7},{"s":"M","t":1985.67,"v":28.2},{"s":"M","t":1985.77,"v":28.8},{"s":"M","t":1985.91,"v":27.1},{"s":"M","t":1986.07,"v":23.8},{"s":"M","t":1986.15,"v":27.1},{"s":"M","t":1986.22,"v":42.5},{"s":"M","t":1986.33,"v":43.1},{"s":"M","t":1986.42,"v":39.2},{"s":"M","t":1986.51,"v":43.6},{"s":"M","t":1986.60,"v":51.9},{"s":"M","t":1986.72,"v":49.7},{"s":"M","t":1986.82,"v":40.9},{"s":"M","t":1986.91,"v":45.3},{"s":"M","t":1987.00,"v":42.5},{"s":"M","t":1987.09,"v":52.4},{"s":"M","t":1987.20,"v":34.8},{"s":"M","t":1987.29,"v":41.4},{"s":"M","t":1987.40,"v":46.4},{"s":"M","t":1987.52,"v":41.4},{"s":"M","t":1987.62,"v":40.3},{"s":"M","t":1987.71,"v":34.8},{"s":"M","t":1987.82,"v":8.5},{"s":"M","t":1987.93,"v":-2},{"s":"M","t":1988.02,"v":-1.4},{"s":"M","t":1988.13,"v":3},{"s":"M","t":1988.25,"v":0.2},{"s":"M","t":1988.38,"v":-8},{"s":"M","t":1988.51,"v":-1.4},{"s":"M","t":1988.63,"v":-8},{"s":"M","t":1988.74,"v":-4.7},{"s":"M","t":1988.78,"v":17.3},{"s":"M","t":1988.87,"v":24.9},{"s":"M","t":1988.99,"v":33.7},{"s":"M","t":1989.07,"v":29.3},{"s":"M","t":1989.14,"v":22.2},{"s":"M","t":1989.27,"v":20.5},{"s":"M","t":1989.40,"v":24.4},{"s":"M","t":1989.49,"v":17.8},{"s":"M","t":1989.56,"v":23.8},{"s":"M","t":1989.65,"v":28.8},{"s":"M","t":1989.73,"v":26},{"s":"M","t":1989.80,"v":20.5},{"s":"M","t":1989.89,"v":22.2},{"s":"M","t":1990.00,"v":21.6},{"s":"M","t":1990.07,"v":10.1},{"s":"M","t":1990.16,"v":6.3},{"s":"M","t":1990.23,"v":-0.3},{"s":"M","t":1990.31,"v":-5.3},{"s":"M","t":1990.41,"v":0.8},{"s":"M","t":1990.52,"v":0.2},{"s":"M","t":1990.61,"v":-16.8},{"s":"M","t":1990.69,"v":-31.6},{"s":"M","t":1990.80,"v":-22.9},{"s":"M","t":1990.92,"v":-29.5},{"s":"M","t":1991.01,"v":-28.9},{"s":"M","t":1991.10,"v":-25.6},{"s":"M","t":1991.18,"v":-4.7},{"s":"M","t":1991.30,"v":-2.5},{"s":"M","t":1991.41,"v":-8},{"s":"M","t":1991.48,"v":-11.9},{"s":"M","t":1991.58,"v":-4.7},{"s":"M","t":1991.66,"v":2.4},{"s":"M","t":1991.70,"v":23.3},{"s":"M","t":1991.76,"v":17.8},{"s":"M","t":1991.83,"v":12.9},{"s":"M","t":1991.94,"v":11.2},{"s":"M","t":1992.03,"v":9},{"s":"M","t":1992.12,"v":8.5},{"s":"M","t":1992.19,"v":-10.2},{"s":"M","t":1992.30,"v":-10.8},{"s":"M","t":1992.43,"v":-9.7},{"s":"M","t":1992.56,"v":-16.8},{"s":"M","t":1992.65,"v":-13},{"s":"M","t":1992.81,"v":-15.2},{"s":"M","t":1992.87,"v":-6.4},{"s":"M","t":1993.01,"v":-5.8},{"s":"M","t":1993.10,"v":-5.3},{"s":"M","t":1993.19,"v":7.4},{"s":"M","t":1993.27,"v":13.4},{"s":"M","t":1993.38,"v":14.5},{"s":"M","t":1993.47,"v":24.4},{"s":"M","t":1993.56,"v":32.1},{"s":"M","t":1993.68,"v":33.2},{"s":"M","t":1993.77,"v":31.5},{"s":"M","t":1993.81,"v":34.8},{"s":"M","t":1993.88,"v":21.1},{"s":"M","t":1993.97,"v":31.5},{"s":"M","t":1994.08,"v":38.1},{"s":"M","t":1994.17,"v":27},{"s":"M","t":1994.25,"v":16.7},{"s":"M","t":1994.39,"v":14.5},{"s":"M","t":1994.52,"v":10.1},{"s":"M","t":1994.64,"v":5.2},{"s":"M","t":1994.74,"v":1.9},{"s":"M","t":1994.82,"v":0.2},{"s":"M","t":1994.90,"v":5.7},{"s":"M","t":1994.97,"v":0.2},{"s":"M","t":1995.06,"v":-12.4},{"s":"M","t":1995.17,"v":-11.3},{"s":"M","t":1995.28,"v":-8},{"s":"M","t":1995.46,"v":-8.6},{"s":"M","t":1995.53,"v":-3.6},{"s":"M","t":1995.63,"v":-2.5},{"s":"M","t":1995.72,"v":3},{"s":"M","t":1995.81,"v":1.9},{"s":"M","t":1995.90,"v":6.3},{"s":"M","t":1995.99,"v":9.6},{"s":"M","t":1996.04,"v":19.5},{"s":"M","t":1996.12,"v":20.5},{"s":"M","t":1996.21,"v":25.5},{"s":"M","t":1996.33,"v":26},{"s":"M","t":1996.42,"v":24.9},{"s":"M","t":1996.48,"v":28.8},{"s":"M","t":1996.54,"v":14.5},{"s":"M","t":1996.63,"v":11.8},{"s":"M","t":1996.75,"v":16.2},{"s":"M","t":1996.86,"v":16.7},{"s":"M","t":1996.95,"v":11.8},{"s":"M","t":1997.04,"v":9.6},{"s":"M","t":1997.15,"v":12.9},{"s":"M","t":1997.25,"v":10.1},{"s":"M","t":1997.34,"v":9.6},{"s":"M","t":1997.43,"v":15.1},{"s":"M","t":1997.50,"v":27.1},{"s":"M","t":1997.57,"v":32.1},{"s":"M","t":1997.64,"v":21.6},{"s":"M","t":1997.73,"v":20.5},{"s":"M","t":1997.81,"v":12.3},{"s":"M","t":1997.90,"v":9.6},{"s":"M","t":1997.99,"v":14.5},{"s":"M","t":1998.11,"v":18.9},{"s":"M","t":1998.21,"v":26},{"s":"M","t":1998.30,"v":22.7},{"s":"M","t":1998.44,"v":18.4},{"s":"M","t":1998.57,"v":11.2},{"s":"M","t":1998.66,"v":4.1},{"s":"M","t":1998.72,"v":-7.5},{"s":"M","t":1998.79,"v":1.9},{"s":"M","t":1998.86,"v":14.5},{"s":"M","t":1998.97,"v":12.9},{"s":"M","t":1999.06,"v":10.7},{"s":"M","t":1999.15,"v":4.1},{"s":"M","t":1999.24,"v":4.1},{"s":"M","t":1999.33,"v":9.6},{"s":"M","t":1999.40,"v":5.2},{"s":"M","t":1999.48,"v":8.5},{"s":"M","t":1999.60,"v":6.3},{"s":"M","t":1999.66,"v":21.6},{"s":"M","t":1999.73,"v":29.9},{"s":"M","t":1999.80,"v":28.2},{"s":"M","t":1999.87,"v":24.9},{"s":"M","t":1999.95,"v":33.7},{"s":"M","t":2000.01,"v":30.4},{"s":"M","t":2000.08,"v":26},{"s":"M","t":2000.17,"v":31.2},{"s":"M","t":2000.26,"v":27.1},{"s":"M","t":2000.32,"v":20.5},{"s":"M","t":2000.44,"v":18.9},{"s":"M","t":2000.53,"v":17.3},{"s":"M","t":2000.62,"v":20},{"s":"M","t":2000.71,"v":15.6},{"s":"M","t":2000.80,"v":5.7},{"s":"M","t":2000.89,"v":-3.6},{"s":"M","t":2000.95,"v":-10.2},{"s":"M","t":2001.02,"v":-2},{"s":"M","t":2001.09,"v":-8},{"s":"M","t":2001.18,"v":-13},{"s":"M","t":2001.27,"v":-15.7},{"s":"M","t":2001.36,"v":-10.2},{"s":"M","t":2001.46,"v":-11.3},{"s":"M","t":2001.57,"v":-16.3},{"s":"M","t":2001.66,"v":-22.3},{"s":"M","t":2001.75,"v":-27.3},{"s":"M","t":2001.82,"v":-23.4},{"s":"M","t":2001.89,"v":-17.9},{"s":"M","t":2001.98,"v":-16.3},{"s":"M","t":2002.07,"v":-19},{"s":"M","t":2002.16,"v":-13},{"s":"M","t":2002.23,"v":-8},{"s":"M","t":2002.31,"v":-14.1},{"s":"M","t":2002.43,"v":-14.6},{"s":"M","t":2002.51,"v":-20.7},{"s":"M","t":2002.58,"v":-24},{"s":"M","t":2002.67,"v":-19.6},{"s":"M","t":2002.75,"v":-19.6},{"s":"M","t":2002.87,"v":-18.5},{"s":"M","t":2002.96,"v":-26.2},{"s":"M","t":2003.07,"v":-28.4},{"s":"M","t":2003.16,"v":-29.5},{"s":"M","t":2003.22,"v":-33.8},{"s":"M","t":2003.29,"v":-28.4},{"s":"M","t":2003.38,"v":-25.1},{"s":"M","t":2003.44,"v":-13.5},{"s":"M","t":2003.51,"v":-4.7},{"s":"M","t":2003.58,"v":0.8},{"s":"M","t":2003.64,"v":4.1},{"s":"M","t":2003.71,"v":12.9},{"s":"M","t":2003.78,"v":12.3},{"s":"M","t":2003.85,"v":11.2},{"s":"M","t":2003.91,"v":7.9},{"s":"M","t":2003.97,"v":21.6},{"s":"M","t":2004.06,"v":30.4},{"s":"M","t":2004.13,"v":34.8},{"s":"M","t":2004.21,"v":38.7},{"s":"M","t":2004.29,"v":29.3},{"s":"M","t":2004.38,"v":23.8},{"s":"M","t":2004.49,"v":21.6},{"s":"M","t":2004.58,"v":15.1},{"s":"M","t":2004.67,"v":12.9},{"s":"M","t":2004.74,"v":15.6},{"s":"M","t":2004.83,"v":12.3},{"s":"M","t":2004.94,"v":13.4},{"s":"M","t":2005.04,"v":12.3},{"s":"M","t":2005.16,"v":11.8},{"s":"M","t":2005.27,"v":11.2},{"s":"M","t":2005.34,"v":7.9},{"s":"M","t":2005.42,"v":14},{"s":"M","t":2005.51,"v":20.5},{"s":"M","t":2005.60,"v":22.7},{"s":"M","t":2005.74,"v":28.8},{"s":"M","t":2005.83,"v":26},{"s":"M","t":2005.91,"v":28.2},{"s":"M","t":2006.02,"v":31},{"s":"M","t":2006.12,"v":31.5},{"s":"M","t":2006.21,"v":34.8},{"s":"M","t":2006.32,"v":39.8},{"s":"M","t":2006.39,"v":27.1},{"s":"M","t":2006.48,"v":24.9},{"s":"M","t":2006.56,"v":22.2},{"s":"M","t":2006.63,"v":21.6},{"s":"M","t":2006.69,"v":18.4},{"s":"M","t":2006.76,"v":21.1},{"s":"M","t":2006.83,"v":21.1},{"s":"M","t":2006.89,"v":17.3},{"s":"M","t":2006.98,"v":16.7},{"s":"M","t":2007.07,"v":15.1},{"s":"M","t":2007.16,"v":13.4},{"s":"M","t":2007.28,"v":12.3},{"s":"M","t":2007.34,"v":19.5},{"s":"M","t":2007.40,"v":24.9},{"s":"M","t":2007.49,"v":23.8},{"s":"M","t":2007.58,"v":17.3},{"s":"M","t":2007.65,"v":14},{"s":"M","t":2007.76,"v":14.5},{"s":"M","t":2007.83,"v":12.3},{"s":"M","t":2007.92,"v":5.2},{"s":"M","t":2007.99,"v":1.9},{"s":"M","t":2008.02,"v":-9.1},{"s":"M","t":2008.14,"v":-10.2},{"s":"M","t":2008.23,"v":-14.1},{"s":"M","t":2008.32,"v":-10.8},{"s":"M","t":2008.41,"v":-13},{"s":"M","t":2008.50,"v":-20.1},{"s":"M","t":2008.59,"v":-17.9},{"s":"M","t":2008.67,"v":-17.4},{"s":"M","t":2008.74,"v":-27.8},{"s":"M","t":2008.79,"v":-40.4},{"s":"M","t":2008.90,"v":-41},{"s":"M","t":2008.99,"v":-38.2},{"s":"M","t":2009.06,"v":-36.6},{"s":"M","t":2009.15,"v":-39.9},{"s":"M","t":2009.23,"v":-36},{"s":"M","t":2009.32,"v":-33.8},{"s":"M","t":2009.41,"v":-31.1},{"s":"M","t":2009.47,"v":-25.6},{"s":"M","t":2009.59,"v":-19.6}
    ]
  },
  "layer": [
    {
      "data": {"name": "lines"},
      "mark": {"type": "line", "strokeJoin": "round"},
      "encoding": {
        "x": {"field": "t", "type": "quantitative", "scale": {"domain": [1970, 2011], "nice": false, "zero": false},
          "axis": {"orient": "bottom", "values": [1970,1971,1972,1973,1974,1975,1976,1977,1978,1979,1980,1981,1982,1983,1984,1985,1986,1987,1988,1989,1990,1991,1992,1993,1994,1995,1996,1997,1998,1999,2000,2001,2002,2003,2004,2005,2006,2007,2008,2009,2010,2011],
            "labelExpr": "datum.value % 5 == 0 && datum.value < 2011 ? '' + datum.value : ''", "labelOffset": 18.7, "tickSize": -13, "labelPadding": 27, "labelBaseline": "top"}},
        "y": {"field": "v", "type": "quantitative", "scale": {"domain": [-60, 220], "nice": false, "zero": false},
          "axis": {"orient": "left", "values": [-40,-20,0,20,40,60,80,100,120,140,160,180,200,220],
            "labelExpr": "datum.value == 220 ? '%' : '' + datum.value", "tickSize": -10, "labelPadding": 21, "labelAlign": "right", "labelBaseline": "middle"}},
        "color": {"field": "s", "type": "nominal", "scale": {"domain": ["G", "S", "M"], "range": ["#0000ff", "#000000", "#000000"]},
          "legend": {"labelExpr": "datum.value == 'G' ? 'GOLD SPOT PRICE (USD PER TROY OUNCE)*' : datum.value == 'S' ? 'S&P 500 INDEX' : 'MSCI EAFE INDEX'",
            "encode": {"symbols": {"update": {"strokeWidth": {"signal": "(datum.value == 'M' ? 6 : datum.value == 'S' ? 2 : 1.7)"}}}}}},
        "strokeDash": {"field": "s", "type": "nominal", "scale": {"domain": ["G", "S", "M"], "range": [[1, 0], [4, 4], [1, 0]]},
          "legend": {"labelExpr": "datum.value == 'G' ? 'GOLD SPOT PRICE (USD PER TROY OUNCE)*' : datum.value == 'S' ? 'S&P 500 INDEX' : 'MSCI EAFE INDEX'",
            "encode": {"symbols": {"update": {"strokeWidth": {"signal": "(datum.value == 'M' ? 6 : datum.value == 'S' ? 2 : 1.7)"}}}}}},
        "strokeWidth": {"condition": [{"test": "datum.s == 'M'", "value": 6}, {"test": "datum.s == 'S'", "value": 2}], "value": 1.7}
      }
    },
    {
      "data": {"values": [{"v": 0}]},
      "mark": {"type": "rule", "color": "black", "strokeWidth": 1.5},
      "encoding": {
        "y": {"field": "v", "type": "quantitative", "scale": {"domain": [-60, 220], "nice": false, "zero": false},
          "axis": {"orient": "right", "values": [-40,-20,0,20,40,60,80,100,120,140,160,180,200,220],
            "labelExpr": "datum.value == 220 ? '%' : '' + datum.value", "tickSize": -10, "labelPadding": 17, "labelAlign": "left", "labelBaseline": "middle"}}
      }
    },
    {
      "data": {"values": [{"t": 1971.0, "v": -47.5, "txt": "© BCA Research 2009"}]},
      "mark": {"type": "text", "font": "Liberation Sans", "fontWeight": "bold", "fontSize": 20, "align": "left", "baseline": "middle", "color": "black"},
      "encoding": {
        "x": {"field": "t", "type": "quantitative", "scale": {"domain": [1970, 2011], "nice": false, "zero": false},
          "axis": {"orient": "bottom", "values": [1970,1971,1972,1973,1974,1975,1976,1977,1978,1979,1980,1981,1982,1983,1984,1985,1986,1987,1988,1989,1990,1991,1992,1993,1994,1995,1996,1997,1998,1999,2000,2001,2002,2003,2004,2005,2006,2007,2008,2009,2010,2011],
            "labelExpr": "datum.value % 5 == 0 && datum.value < 2011 ? '' + datum.value : ''", "labelOffset": 18.7, "tickSize": -13, "labelPadding": 27, "labelBaseline": "top"}},
        "y": {"field": "v", "type": "quantitative", "axis": null},
        "text": {"field": "txt"}
      }
    }
  ],
  "resolve": {"scale": {"y": "shared"}, "axis": {"y": "independent"}}
}
